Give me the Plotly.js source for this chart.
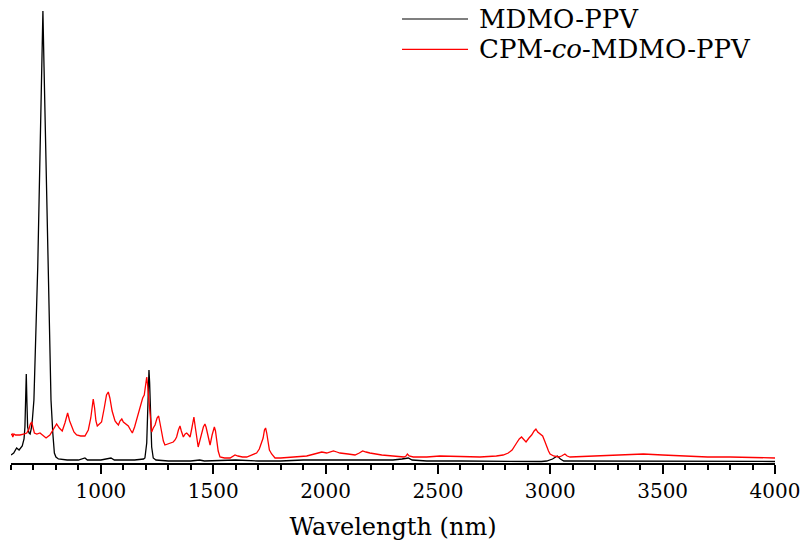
<!DOCTYPE html>
<html>
<head>
<meta charset="utf-8">
<script src="https://cdn.plot.ly/plotly-3.0.1.min.js"></script>
<style>html,body{margin:0;padding:0;background:#fff;}#chart{width:805px;height:542px;}</style>
</head>
<body>
<div id="chart"></div>
<script>
// Series names
const seriesNames = ["MDMO-PPV", "CPM-<i>co</i>-MDMO-PPV"];

// MDMO-PPV (black) wavelength (nm) and intensity (a.u.)
const mdmoX = [600,612,625,636,650,658,662,665,668,671,674,680,685,690,695,702,711,719,725,730,737,742,747,753,759,765,770,778,786,793,800,811,850,900,929,940,1000,1045,1060,1150,1190,1196,1204,1208,1211,1214,1217,1222,1226,1233,1245,1300,1400,1440,1460,1600,1700,1800,1900,2000,2100,2200,2300,2340,2368,2385,2450,2600,2800,2900,2960,2984,3010,3031,3045,3060,3200,3500,4000];
const mdmoY = [8,10,15,13,17,24,36,70,89,60,36,30,29,34,43,63,130,196,263,330,396,452,396,330,263,196,130,63,30,10,6,4,3,3,5,3,3,5,3,3,4,5,20,53,80,93,80,53,16,5,3,2,2,3,2,3,2,2,3,3,3,3,3,4,5,3,2,2,1.5,1,1.5,2,4,7,4,2,2,1.5,1.5];

// CPM-co-MDMO-PPV (red)
const cpmX = [600,605,608,613,620,640,660,670,680,686,692,698,704,715,729,740,756,773,790,803,815,828,840,852,861,870,880,892,910,929,944,955,962,966,972,978,984,995,1003,1015,1025,1033,1040,1050,1063,1070,1078,1085,1093,1100,1112,1122,1132,1140,1150,1167,1180,1186,1193,1200,1204,1208,1214,1220,1226,1233,1241,1250,1257,1263,1271,1278,1285,1300,1322,1330,1337,1345,1352,1358,1367,1375,1382,1390,1397,1405,1414,1420,1427,1433,1440,1449,1456,1463,1468,1474,1480,1486,1495,1505,1510,1515,1522,1530,1550,1575,1597,1610,1630,1649,1670,1693,1705,1715,1722,1728,1733,1738,1745,1750,1760,1775,1800,1871,1916,1950,1983,2005,2035,2050,2064,2100,2131,2150,2165,2180,2197,2250,2301,2349,2358,2364,2372,2390,2450,2509,2600,2687,2760,2790,2813,2830,2850,2862,2872,2882,2892,2905,2917,2928,2936,2944,2951,2958,2966,2975,2984,2992,2999,3015,3036,3050,3065,3075,3088,3200,3300,3414,3500,3577,3700,3800,3900,4000];
const cpmY = [28,29,26,29,28,28,29,30,34,39,41,35,30,29,30,28,25,28,34,39,35,32,40,50,42,36,31,28,27,27,33,45,60,64,55,42,37,39,41,55,68,71,65,52,42,40,38,42,44,41,39,37,33,30,36,50,60,65,68,80,86,78,63,45,31,35,38,45,47,40,30,22,18,19,21,23,26,33,37,32,26,29,30,28,26,35,46,36,22,16,22,30,36,39,36,30,23,18,28,36,32,23,12,6,5,5,8,7,6,6,8,10,14,20,25,33,35,30,18,13,9,5,5,6,7,9,11,10,12,11,10,9,8,10,12,11,10,8,7,6,7,9,7,6,6,7,6.5,6,7,8,10,13,20,24,26,23,21,25,28,32,34,31,30,29,27,22,16,12,9,7,6,7,9,7,6,7,8,9,8,7,6,6,5.5,5];

// Axis ticks
const tickValues = [1000,1500,2000,2500,3000,3500,4000];
const tickLabels = ["1000","1500","2000","2500","3000","3500","4000"];
const xTitle = "Wavelength (nm)";

const serif = 'DejaVu Serif';

const traces = [
  {x: mdmoX, y: mdmoY, type: 'scatter', mode: 'lines', name: seriesNames[0],
   line: {color: '#000000', width: 1.3}},
  {x: cpmX, y: cpmY, type: 'scatter', mode: 'lines', name: seriesNames[1],
   line: {color: '#ff0000', width: 1.3}}
];

const legendColors = ['#000000', '#ff0000'];
const legendRowsY = [0.9652, 0.8993];
const shapes = legendRowsY.map((yy, i) => ({
  type: 'line', xref: 'paper', yref: 'paper', x0: 0.5118, x1: 0.5982, y0: yy, y1: yy,
  line: {color: legendColors[i], width: 1.2}
}));
const annotations = legendRowsY.map((yy, i) => ({
  xref: 'paper', yref: 'paper', x: 0.6099, y: yy, xanchor: 'left', yanchor: 'middle',
  text: seriesNames[i], showarrow: false, font: {family: serif, size: 26, color: '#000'}
}));

const layout = {
  width: 805, height: 542,
  margin: {l: 11, r: 30, t: 3, b: 79},
  paper_bgcolor: '#fff', plot_bgcolor: '#fff',
  showlegend: false,
  font: {family: serif, color: '#000'},
  xaxis: {
    range: [600, 4000], tickmode: 'array', tickvals: tickValues, ticktext: tickLabels,
    showgrid: false, zeroline: false, showline: true, linecolor: '#000', linewidth: 2,
    ticks: 'outside', ticklen: 9, tickwidth: 2, tickcolor: '#000',
    minor: {dtick: 100, tick0: 0, ticks: 'outside', ticklen: 5, tickwidth: 2, tickcolor: '#000', showgrid: false},
    tickfont: {family: serif, size: 20, color: '#000'},
    title: {text: xTitle, font: {family: serif, size: 24, color: '#000'}, standoff: 16}
  },
  yaxis: {
    range: [0, 460], visible: true, showline: false, showticklabels: false, showgrid: false,
    zeroline: false, ticks: ''
  },
  shapes: shapes,
  annotations: annotations
};

Plotly.newPlot('chart', traces, layout, {displayModeBar: false, staticPlot: true});
</script>
</body>
</html>
